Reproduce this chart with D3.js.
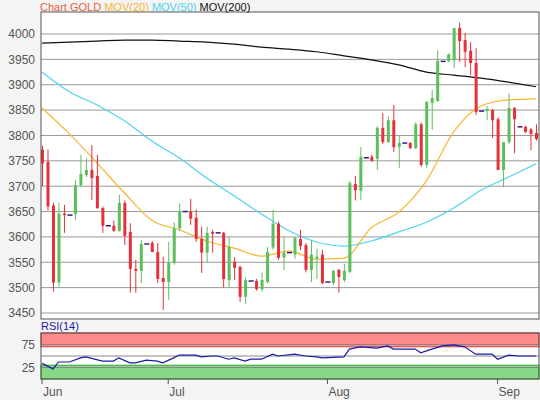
<!DOCTYPE html>
<html><head><meta charset="utf-8">
<script src="https://cdn.jsdelivr.net/npm/d3@7"></script>
<style>body{margin:0;background:#f4f4f4}text{font-family:"Liberation Sans",Arial,sans-serif}</style>
</head><body><svg id="c" width="540" height="400"></svg>
<script>
// candles: [open, high, low, close]
const candles = [
 [3772,3780,3700,3745],[3748,3772,3652,3660],[3662,3667,3492,3510],[3510,3667,3502,3646],[3646,3663,3608,3643],
 [3643,3643,3643,3643],[3645,3712,3633,3702],[3702,3762,3698,3724],[3722,3755,3718,3732],[3732,3781,3673,3716],
 [3720,3762,3655,3657],[3657,3660,3608,3622],[3622,3622,3622,3622],[3622,3632,3610,3612],[3612,3683,3610,3667],
 [3667,3672,3584,3602],[3610,3627,3490,3537],[3537,3555,3490,3533],[3533,3594,3509,3586],[3586,3586,3586,3586],
 [3588,3592,3570,3570],[3570,3588,3509,3517],[3519,3561,3456,3511],[3511,3590,3476,3549],[3549,3629,3545,3617],
 [3617,3666,3612,3650],[3650,3650,3650,3650],[3650,3675,3624,3636],[3638,3654,3590,3596],[3596,3620,3529,3569],
 [3569,3620,3550,3608],[3610,3614,3569,3606],[3608,3608,3608,3608],[3608,3610,3500,3517],[3515,3600,3501,3580],
 [3551,3560,3515,3539],[3541,3543,3472,3482],[3482,3520,3468,3515],[3513,3513,3513,3513],[3513,3517,3494,3497],
 [3497,3530,3492,3515],[3511,3580,3509,3570],[3579,3653,3575,3626],[3626,3630,3555,3559],[3559,3600,3535,3569],
 [3569,3569,3569,3569],[3565,3600,3557,3598],[3596,3614,3574,3582],[3584,3588,3530,3535],[3535,3594,3511,3565],
 [3557,3577,3517,3561],[3565,3575,3507,3509],[3511,3511,3511,3511],[3509,3535,3505,3533],[3535,3537,3490,3521],
 [3515,3547,3511,3533],[3531,3710,3529,3706],[3704,3720,3672,3692],[3691,3777,3673,3758],[3756,3756,3756,3756],
 [3758,3762,3748,3750],[3754,3818,3732,3815],[3815,3844,3783,3787],[3787,3838,3785,3830],[3830,3860,3767,3777],
 [3777,3800,3736,3785],[3785,3785,3785,3785],[3785,3787,3773,3775],[3775,3826,3773,3822],[3822,3826,3738,3742],
 [3742,3868,3736,3866],[3864,3890,3811,3874],[3868,3968,3866,3947],[3946,3946,3946,3946],[3946,3962,3944,3960],
 [3948,4012,3933,4012],[4012,4023,3945,3986],[3988,4002,3935,3965],[3967,3984,3919,3943],[3943,3972,3840,3846],
 [3848,3848,3848,3848],[3848,3858,3830,3852],[3850,3852,3795,3830],[3832,3836,3732,3732],[3732,3760,3698,3787],
 [3787,3883,3783,3854],[3854,3856,3765,3832],[3817,3817,3817,3817],[3817,3819,3805,3807],[3812,3815,3771,3803],
 [3805,3822,3790,3793]
];
const maIdx = [0,5,10,15,20,25,30,35,40,45,50,55,60,65,70,75,80,85,90];
const ma20 = [3854,3803,3746,3687,3633,3614,3592,3578,3562,3572,3556,3558,3618,3649,3710,3807,3858,3870,3872];
const ma50 = [3925,3886,3860,3829,3789,3756,3716,3681,3645,3612,3590,3582,3592,3610,3629,3657,3692,3718,3744];
const ma200 = [3982,3984,3986,3988,3988,3986,3984,3980,3974,3970,3965,3957,3949,3939,3925,3919,3913,3905,3896];
const rsiIdx = [0,2,3,5,7,8,11,13,14,16,17,19,21,22,24,25,28,29,31,32,34,35,37,38,40,42,43,46,48,50,51,55,56,58,61,63,64,68,69,71,73,75,77,79,82,83,85,87,90];
const rsiVal = [34,22,37,37,46,48,39,39,46,35,35,41,39,35,46,52,52,48,50,50,43,46,39,43,43,54,50,54,50,48,46,48,65,70,67,72,65,65,57,65,72,74,70,54,54,43,52,50,50];
const priceTicks = [3450,3500,3550,3600,3650,3700,3750,3800,3850,3900,3950,4000];
const months = ["Jun","Jul","Aug","Sep"];
const monthIdx = [0,23,52,83];

const svg = d3.select("#c");
const L = 41, R = 539;
const x = d3.scaleLinear().domain([0, 90]).range([42, 536]);
const y = d3.scaleLinear().domain([3450, 4000]).range([313, 34]);
const yr = d3.scaleLinear().domain([0, 100]).range([379, 333]);
const up = "#5cbf5c", down = "#e3323b";

// main panel
svg.append("rect").attr("x", L).attr("y", 12).attr("width", R - L).attr("height", 307).attr("fill", "#fff");
svg.append("g").selectAll("line").data(priceTicks).join("line")
  .attr("x1", L).attr("x2", R).attr("y1", d => y(d)).attr("y2", d => y(d))
  .attr("stroke", "#999").attr("stroke-width", 1);
svg.append("g").attr("transform", `translate(${L},0)`)
  .call(d3.axisLeft(y).tickValues(priceTicks).tickFormat(d3.format("d")).tickSize(0).tickPadding(6))
  .call(g => g.select(".domain").remove())
  .call(g => g.selectAll("text").attr("fill", "#555").attr("font-size", 12).attr("font-family", "Liberation Sans"));

const line = d3.line().x(d => x(d[0])).y(d => y(d[1])).curve(d3.curveMonotoneX);
[[ma200, "#111"], [ma50, "#4fd3ef"], [ma20, "#f7b731"]].forEach(([s, c]) => {
  svg.append("path").datum(maIdx.map((i, k) => [i, s[k]])).attr("d", line)
    .attr("fill", "none").attr("stroke", c).attr("stroke-width", 1.2);
});

const cg = svg.append("g").selectAll("g").data(candles).join("g")
  .attr("transform", (d, i) => `translate(${x(i)},0)`);
cg.filter(d => d[0] !== d[3]).append("line")
  .attr("x1", 0.5).attr("x2", 0.5)
  .attr("y1", d => y(d[1])).attr("y2", d => y(d[2]))
  .attr("stroke", d => d[3] > d[0] ? up : down);
cg.filter(d => d[0] !== d[3]).append("rect")
  .attr("x", -1).attr("width", 3)
  .attr("y", d => y(Math.max(d[0], d[3])))
  .attr("height", d => Math.max(1, Math.abs(y(d[0]) - y(d[3]))))
  .attr("fill", d => d[3] > d[0] ? up : down);
cg.filter(d => d[0] === d[3]).append("line")
  .attr("x1", -2).attr("x2", 3)
  .attr("y1", d => y(d[3])).attr("y2", d => y(d[3]))
  .attr("stroke", "#3a1a8a").attr("stroke-width", 1.5);

svg.append("rect").attr("x", L).attr("y", 12).attr("width", R - L).attr("height", 307)
  .attr("fill", "none").attr("stroke", "#555");

// legend
const leg = svg.append("text").attr("x", 40).attr("y", 11).attr("font-size", 11);
[["Chart GOLD ", "#e8603c"], ["MOV(20) ", "#f7b731"], ["MOV(50) ", "#4fd3ef"], ["MOV(200)", "#111"]]
  .forEach(([t, c]) => leg.append("tspan").text(t).attr("fill", c));

// RSI panel
svg.append("rect").attr("x", L).attr("y", 333).attr("width", R - L).attr("height", 46).attr("fill", "#fff");
svg.append("rect").attr("x", L).attr("y", yr(100)).attr("width", R - L).attr("height", yr(70) - yr(100))
  .attr("fill", "#ff8a8a").attr("stroke", "#c44");
svg.append("rect").attr("x", L).attr("y", yr(30)).attr("width", R - L).attr("height", yr(0) - yr(30))
  .attr("fill", "#86d886").attr("stroke", "#3a3");
svg.append("g").selectAll("line").data([25, 50, 75]).join("line")
  .attr("x1", L).attr("x2", R).attr("y1", d => yr(d)).attr("y2", d => yr(d)).attr("stroke", "#888");
svg.append("g").attr("transform", `translate(${L},0)`)
  .call(d3.axisLeft(yr).tickValues([25, 75]).tickSize(0).tickPadding(6))
  .call(g => g.select(".domain").remove())
  .call(g => g.selectAll("text").attr("fill", "#555").attr("font-size", 12).attr("font-family", "Liberation Sans"));
svg.append("path").datum(rsiIdx.map((i, k) => [i, rsiVal[k]]))
  .attr("d", d3.line().x(d => x(d[0])).y(d => yr(d[1])))
  .attr("fill", "none").attr("stroke", "#1a1aaa").attr("stroke-width", 1.2);
svg.append("rect").attr("x", L).attr("y", 333).attr("width", R - L).attr("height", 46)
  .attr("fill", "none").attr("stroke", "#555");
svg.append("text").attr("x", 41).attr("y", 330).attr("font-size", 11).attr("fill", "#1a1aaa").text("RSI(14)");

// x axis
const xa = svg.append("g").selectAll("g").data(monthIdx).join("g");
xa.append("line").attr("x1", d => x(d)).attr("x2", d => x(d)).attr("y1", 379).attr("y2", 384).attr("stroke", "#555");
xa.append("text").attr("x", d => x(d) + 1).attr("y", 396).attr("font-size", 12).attr("fill", "#555")
  .text((d, i) => months[i]);
</script></body></html>
